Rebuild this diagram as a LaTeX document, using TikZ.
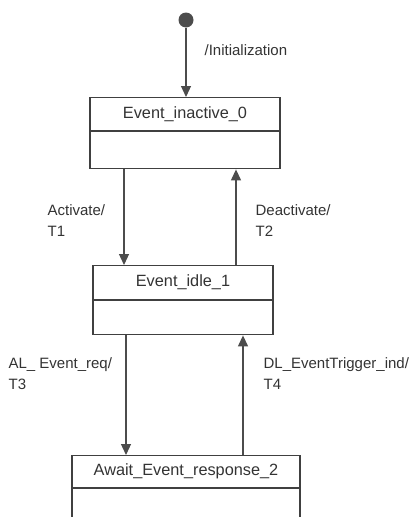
\documentclass[tikz,border=0pt]{standalone}
\usepackage{fontspec}
\setmainfont{Liberation Sans}
\usetikzlibrary{arrows.meta,positioning}
\begin{document}
\begin{tikzpicture}[x=1pt,y=-1pt,line width=1.2pt,
  every node/.style={font=\fontsize{15}{21}\selectfont,text=black!80},
  statename/.style={draw=black!75,rectangle,inner sep=0pt,minimum height=33pt,
    font=\fontsize{16.3}{20}\selectfont},
  statebody/.style={draw=black!75,rectangle,inner sep=0pt},
  trans/.style={draw=black!70,-{Triangle[length=11pt,width=10pt]}},
  lbl/.style={anchor=west,align=left,inner sep=0pt}]
\useasboundingbox (0,0) rectangle (418,517);
% initial pseudo state
\node[circle,fill=black!70,minimum size=15pt,inner sep=0pt] (init) at (186,20) {};
% states
\node[statename,minimum width=190pt,anchor=north] (inactive) at (185,97) {Event\_inactive\_0};
\node[statebody,minimum width=190pt,minimum height=37pt,anchor=north] (inactivebody) at (inactive.south) {};
\node[statename,minimum width=180pt,minimum height=34pt,anchor=north] (idle) at (183,265) {Event\_idle\_1};
\node[statebody,minimum width=180pt,minimum height=34pt,anchor=north] (idlebody) at (idle.south) {};
\node[statename,minimum width=228pt,minimum height=32pt,anchor=north] (await) at (186,455) {Await\_Event\_response\_2};
\node[statebody,minimum width=228pt,minimum height=45pt,anchor=north] (awaitbody) at (await.south) {};
% transitions
\draw[trans] (init) -- (inactive.north -| init);
\node[lbl] (initlbl) at (204,50) {/Initialization};
\draw[trans] ([xshift=-61pt]inactivebody.south) -- ([xshift=-61pt]inactivebody.south |- idle.north);
\node[lbl] (actlbl) at (47,221) {Activate/\\T1};
\draw[trans] ([xshift=53pt]idle.north) -- ([xshift=53pt]idle.north |- inactivebody.south);
\node[lbl] (deactlbl) at (255,221) {Deactivate/\\T2};
\draw[trans] ([xshift=-57pt]idlebody.south) -- ([xshift=-57pt]idlebody.south |- await.north);
\node[lbl] (reqlbl) at (8,374) {AL\_ Event\_req/\\T3};
\draw[trans] ([xshift=57pt]await.north) -- ([xshift=57pt]await.north |- idlebody.south);
\node[lbl] (indlbl) at (263,374) {DL\_EventTrigger\_ind/\\T4};
\end{tikzpicture}
\end{document}
